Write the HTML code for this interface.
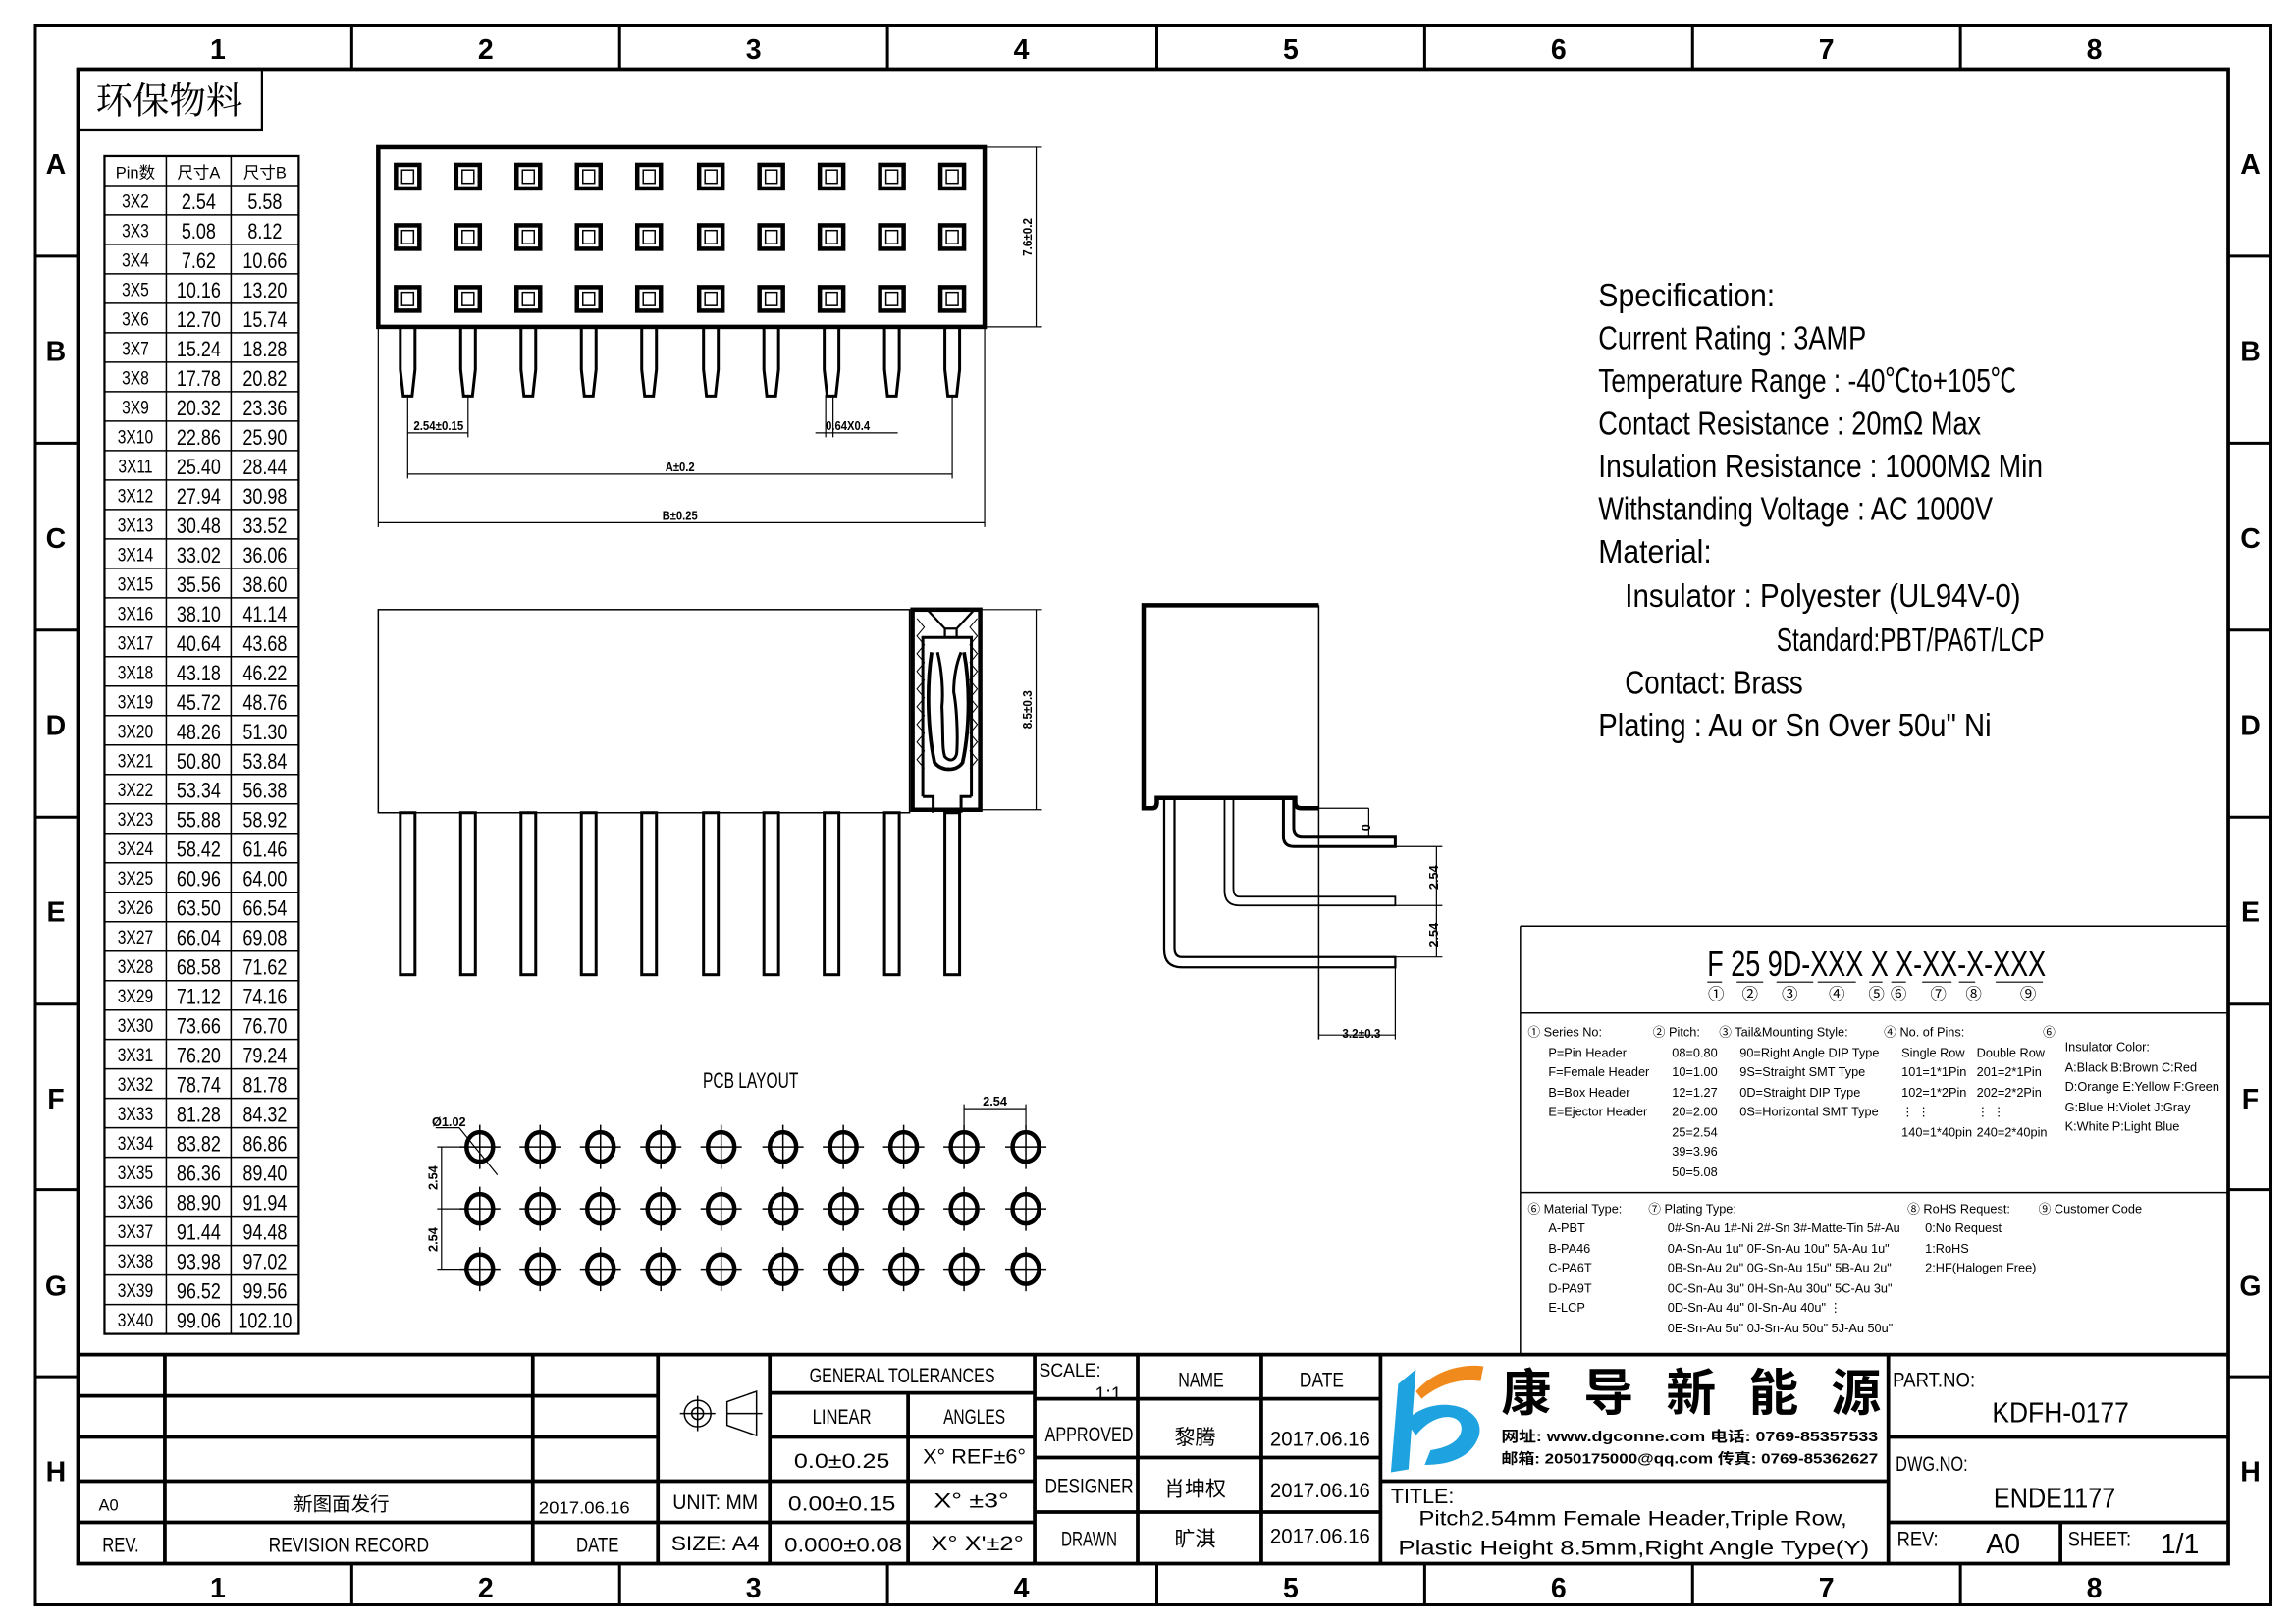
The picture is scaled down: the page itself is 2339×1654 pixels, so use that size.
<!DOCTYPE html>
<html><head><meta charset="utf-8"><style>
html,body{margin:0;padding:0;background:#fff}
svg{display:block}
text{font-family:"Liberation Sans","Noto Sans CJK SC",sans-serif;fill:#000}
.n{font-family:"Liberation Sans","Noto Sans CJK SC",sans-serif;font-weight:bold}
.s{font-size:13px}
.sp{font-size:22px}
.sm{font-size:8.5px;font-weight:bold}
</style></head><body>
<svg width="2339" height="1654" viewBox="0 0 1560 1103" preserveAspectRatio="none" xmlns="http://www.w3.org/2000/svg">
<defs>
<g id="pad"><rect x="-8" y="-8" width="16" height="16" fill="none" stroke="#000" stroke-width="3"/><rect x="-4" y="-4.5" width="8" height="9" fill="none" stroke="#000" stroke-width="1"/></g>
<path id="pin" d="M-5,0 L-5,28 L-3,46 L3,46 L5,28 L5,0" fill="none" stroke="#000" stroke-width="2"/>
<g id="hole"><ellipse rx="9" ry="10" fill="none" stroke="#000" stroke-width="3"/><path d="M-14,0H14M0,-15V15" stroke="#000" stroke-width="1"/></g>
<rect id="fp" x="-5" y="0" width="10" height="110" fill="none" stroke="#000" stroke-width="2"/>
</defs>
<rect width="1560" height="1103" fill="#fff"/>
<!-- frame -->
<rect x="24" y="17" width="1519" height="1073" fill="none" stroke="#000" stroke-width="2"/>
<rect x="53" y="47" width="1461" height="1015" fill="none" stroke="#000" stroke-width="2.5"/>
<g stroke="#000" stroke-width="2">
<path d="M239,17V47M421,17V47M603,17V47M786,17V47M968,17V47M1150,17V47M1332,17V47"/>
<path d="M239,1062V1090M421,1062V1090M603,1062V1090M786,1062V1090M968,1062V1090M1150,1062V1090M1332,1062V1090"/>
<path d="M24,174H53M24,301H53M24,428H53M24,555H53M24,682H53M24,808H53M24,935H53"/>
<path d="M1514,174H1543M1514,301H1543M1514,428H1543M1514,555H1543M1514,682H1543M1514,808H1543M1514,935H1543"/>
</g>
<g class="n" font-size="19" text-anchor="middle">
<text x="148" y="40">1</text><text x="330" y="40">2</text><text x="512" y="40">3</text><text x="694" y="40">4</text><text x="877" y="40">5</text><text x="1059" y="40">6</text><text x="1241" y="40">7</text><text x="1423" y="40">8</text>
<text x="148" y="1085">1</text><text x="330" y="1085">2</text><text x="512" y="1085">3</text><text x="694" y="1085">4</text><text x="877" y="1085">5</text><text x="1059" y="1085">6</text><text x="1241" y="1085">7</text><text x="1423" y="1085">8</text>
<text x="38" y="118">A</text><text x="38" y="245">B</text><text x="38" y="372">C</text><text x="38" y="499">D</text><text x="38" y="626">E</text><text x="38" y="753">F</text><text x="38" y="880">G</text><text x="38" y="1006">H</text>
<text x="1529" y="118">A</text><text x="1529" y="245">B</text><text x="1529" y="372">C</text><text x="1529" y="499">D</text><text x="1529" y="626">E</text><text x="1529" y="753">F</text><text x="1529" y="880">G</text><text x="1529" y="1006">H</text>
</g>
<rect x="53" y="47" width="125" height="41" fill="none" stroke="#000" stroke-width="1.5"/>
<text x="115" y="77" font-size="25" text-anchor="middle" style="font-family:'Noto Serif CJK SC','Noto Sans CJK SC',serif">环保物料</text>

<!-- table -->
<g stroke="#000" stroke-width="1" fill="none">
<rect x="71" y="106" width="132" height="800" stroke-width="1.5"/>
<path d="M113,106V906M157,106V906"/>
<path d="M71,126H203M71,146H203M71,166H203M71,186H203M71,206H203M71,226H203M71,246H203M71,266H203M71,286H203M71,306H203M71,326H203M71,346H203M71,366H203M71,386H203M71,406H203M71,426H203M71,446H203M71,466H203M71,486H203M71,506H203M71,526H203M71,546H203M71,566H203M71,586H203M71,606H203M71,626H203M71,646H203M71,666H203M71,686H203M71,706H203M71,726H203M71,746H203M71,766H203M71,786H203M71,806H203M71,826H203M71,846H203M71,866H203M71,886H203"/>
</g>
<g text-anchor="middle" font-size="11">
<text x="92" y="121">Pin数</text><text x="135" y="121">尺寸A</text><text x="180" y="121">尺寸B</text>
</g>
<g transform="scale(0.8,1)" text-anchor="middle">
<g font-size="13">
<text x="115" y="141">3X2</text><text x="115" y="161">3X3</text><text x="115" y="181">3X4</text><text x="115" y="201">3X5</text><text x="115" y="221">3X6</text><text x="115" y="241">3X7</text><text x="115" y="261">3X8</text><text x="115" y="281">3X9</text><text x="115" y="301">3X10</text><text x="115" y="321">3X11</text><text x="115" y="341">3X12</text><text x="115" y="361">3X13</text><text x="115" y="381">3X14</text><text x="115" y="401">3X15</text><text x="115" y="421">3X16</text><text x="115" y="441">3X17</text><text x="115" y="461">3X18</text><text x="115" y="481">3X19</text><text x="115" y="501">3X20</text><text x="115" y="521">3X21</text><text x="115" y="541">3X22</text><text x="115" y="561">3X23</text><text x="115" y="581">3X24</text><text x="115" y="601">3X25</text><text x="115" y="621">3X26</text><text x="115" y="641">3X27</text><text x="115" y="661">3X28</text><text x="115" y="681">3X29</text><text x="115" y="701">3X30</text><text x="115" y="721">3X31</text><text x="115" y="741">3X32</text><text x="115" y="761">3X33</text><text x="115" y="781">3X34</text><text x="115" y="801">3X35</text><text x="115" y="821">3X36</text><text x="115" y="841">3X37</text><text x="115" y="861">3X38</text><text x="115" y="881">3X39</text><text x="115" y="901">3X40</text>
</g>
<g font-size="15">
<text x="168.75" y="142">2.54</text><text x="168.75" y="162">5.08</text><text x="168.75" y="182">7.62</text><text x="168.75" y="202">10.16</text><text x="168.75" y="222">12.70</text><text x="168.75" y="242">15.24</text><text x="168.75" y="262">17.78</text><text x="168.75" y="282">20.32</text><text x="168.75" y="302">22.86</text><text x="168.75" y="322">25.40</text><text x="168.75" y="342">27.94</text><text x="168.75" y="362">30.48</text><text x="168.75" y="382">33.02</text><text x="168.75" y="402">35.56</text><text x="168.75" y="422">38.10</text><text x="168.75" y="442">40.64</text><text x="168.75" y="462">43.18</text><text x="168.75" y="482">45.72</text><text x="168.75" y="502">48.26</text><text x="168.75" y="522">50.80</text><text x="168.75" y="542">53.34</text><text x="168.75" y="562">55.88</text><text x="168.75" y="582">58.42</text><text x="168.75" y="602">60.96</text><text x="168.75" y="622">63.50</text><text x="168.75" y="642">66.04</text><text x="168.75" y="662">68.58</text><text x="168.75" y="682">71.12</text><text x="168.75" y="702">73.66</text><text x="168.75" y="722">76.20</text><text x="168.75" y="742">78.74</text><text x="168.75" y="762">81.28</text><text x="168.75" y="782">83.82</text><text x="168.75" y="802">86.36</text><text x="168.75" y="822">88.90</text><text x="168.75" y="842">91.44</text><text x="168.75" y="862">93.98</text><text x="168.75" y="882">96.52</text><text x="168.75" y="902">99.06</text>
<text x="225" y="142">5.58</text><text x="225" y="162">8.12</text><text x="225" y="182">10.66</text><text x="225" y="202">13.20</text><text x="225" y="222">15.74</text><text x="225" y="242">18.28</text><text x="225" y="262">20.82</text><text x="225" y="282">23.36</text><text x="225" y="302">25.90</text><text x="225" y="322">28.44</text><text x="225" y="342">30.98</text><text x="225" y="362">33.52</text><text x="225" y="382">36.06</text><text x="225" y="402">38.60</text><text x="225" y="422">41.14</text><text x="225" y="442">43.68</text><text x="225" y="462">46.22</text><text x="225" y="482">48.76</text><text x="225" y="502">51.30</text><text x="225" y="522">53.84</text><text x="225" y="542">56.38</text><text x="225" y="562">58.92</text><text x="225" y="582">61.46</text><text x="225" y="602">64.00</text><text x="225" y="622">66.54</text><text x="225" y="642">69.08</text><text x="225" y="662">71.62</text><text x="225" y="682">74.16</text><text x="225" y="702">76.70</text><text x="225" y="722">79.24</text><text x="225" y="742">81.78</text><text x="225" y="762">84.32</text><text x="225" y="782">86.86</text><text x="225" y="802">89.40</text><text x="225" y="822">91.94</text><text x="225" y="842">94.48</text><text x="225" y="862">97.02</text><text x="225" y="882">99.56</text><text x="225" y="902">102.10</text>
</g></g>

<!-- top view -->
<rect x="257" y="100" width="412" height="122" fill="none" stroke="#000" stroke-width="3"/>
<g>
<use href="#pad" x="277" y="120"/><use href="#pad" x="318" y="120"/><use href="#pad" x="359" y="120"/><use href="#pad" x="400" y="120"/><use href="#pad" x="441" y="120"/><use href="#pad" x="483" y="120"/><use href="#pad" x="524" y="120"/><use href="#pad" x="565" y="120"/><use href="#pad" x="606" y="120"/><use href="#pad" x="647" y="120"/>
<use href="#pad" x="277" y="161"/><use href="#pad" x="318" y="161"/><use href="#pad" x="359" y="161"/><use href="#pad" x="400" y="161"/><use href="#pad" x="441" y="161"/><use href="#pad" x="483" y="161"/><use href="#pad" x="524" y="161"/><use href="#pad" x="565" y="161"/><use href="#pad" x="606" y="161"/><use href="#pad" x="647" y="161"/>
<use href="#pad" x="277" y="203"/><use href="#pad" x="318" y="203"/><use href="#pad" x="359" y="203"/><use href="#pad" x="400" y="203"/><use href="#pad" x="441" y="203"/><use href="#pad" x="483" y="203"/><use href="#pad" x="524" y="203"/><use href="#pad" x="565" y="203"/><use href="#pad" x="606" y="203"/><use href="#pad" x="647" y="203"/>
<use href="#pin" x="277" y="223"/><use href="#pin" x="318" y="223"/><use href="#pin" x="359" y="223"/><use href="#pin" x="400" y="223"/><use href="#pin" x="441" y="223"/><use href="#pin" x="483" y="223"/><use href="#pin" x="524" y="223"/><use href="#pin" x="565" y="223"/><use href="#pin" x="606" y="223"/><use href="#pin" x="647" y="223"/>
</g>
<g stroke="#000" stroke-width="0.8" fill="none">
<path d="M669,100H708M669,222H708M704,100V222"/>
<path d="M277,268V325M318,268V297M277,294H318"/>
<path d="M561,268V297M566,268V297M554,294H610"/>
<path d="M647,268V325M277,322H647"/>
<path d="M257,222V358M669,222V358M257,355H669"/>
</g>
<g class="sm" text-anchor="middle">
<text x="298" y="292" textLength="34" lengthAdjust="spacingAndGlyphs">2.54±0.15</text><text x="576" y="292" textLength="30" lengthAdjust="spacingAndGlyphs">0.64X0.4</text><text x="462" y="320" textLength="20" lengthAdjust="spacingAndGlyphs">A±0.2</text><text x="462" y="353" textLength="24" lengthAdjust="spacingAndGlyphs">B±0.25</text>
<text transform="translate(701,161) rotate(-90)" textLength="26" lengthAdjust="spacingAndGlyphs">7.6±0.2</text>
</g>

<!-- front view -->
<rect x="257" y="414" width="361" height="138" fill="none" stroke="#000" stroke-width="1"/>
<g fill="none" stroke="#000">
<rect x="620" y="414" width="46" height="136" stroke-width="3"/>
<path d="M630,414L642,427H650L662,414M642,427V433M650,427V433" stroke-width="1.5"/>
<path d="M627,541V433H660V541" stroke-width="2"/>
<path d="M623,420l5,6l-5,6l5,6l-5,6l5,6l-5,6l5,6l-5,6l5,6l-5,6l5,6l-5,6l5,6l-5,6l5,6l-5,6l5,6 M664,420l-5,6l5,6l-5,6l5,6l-5,6l5,6l-5,6l5,6l-5,6l5,6l-5,6l5,6l-5,6l5,6l-5,6l5,6l-5,6" stroke-width="0.7"/>
<path d="M633,443C629,470 631,500 635,518C640,524 650,524 654,518C658,500 660,470 655,443" stroke-width="2.5"/>
<path d="M637,443C640,455 641,470 640,480C641,500 640,508 642,514C646,518 649,516 650,512C651,500 650,480 648,470C648,460 650,450 653,443" stroke-width="2"/>
<path d="M627,541H634V552M660,541H653V552" stroke-width="2"/>
<path d="M666,414H708M666,550H708M704,414V550" stroke-width="0.8"/>
</g>
<text class="sm" transform="translate(701,482) rotate(-90)" text-anchor="middle" textLength="26" lengthAdjust="spacingAndGlyphs">8.5±0.3</text>
<g>
<use href="#fp" x="277" y="552"/><use href="#fp" x="318" y="552"/><use href="#fp" x="359" y="552"/><use href="#fp" x="400" y="552"/><use href="#fp" x="441" y="552"/><use href="#fp" x="483" y="552"/><use href="#fp" x="524" y="552"/><use href="#fp" x="565" y="552"/><use href="#fp" x="606" y="552"/><use href="#fp" x="647" y="552"/>
</g>

<!-- side view -->
<g fill="none" stroke="#000">
<path d="M896,411H777V549H783Q786,549 786,545V542H880V545Q880,549 884,549H896" stroke-width="3"/>
<path d="M896,411V706" stroke-width="1"/>
<path d="M872,542V568Q872,575 879,575H948V568H885Q879,568 879,562V542" stroke-width="2"/>
<path d="M832,542V605Q832,615 842,615H948V609H842Q838,609 838,603V542" stroke-width="1.2"/>
<path d="M791,542V645Q791,657 803,657H948V650H803Q798,650 798,644V542" stroke-width="1.5"/>
<path d="M948,657V706M896,703H948M896,549H930M930,549V568M948,575H980M948,615H980M948,650H980M976,575V650" stroke-width="0.8"/>
</g>
<g class="sm" text-anchor="middle">
<text transform="translate(931,562) rotate(-90)">0</text>
<text transform="translate(977,596) rotate(-90)">2.54</text>
<text transform="translate(977,635) rotate(-90)">2.54</text>
<text x="925" y="705" textLength="26" lengthAdjust="spacingAndGlyphs">3.2±0.3</text>
</g>

<!-- PCB -->
<text x="510" y="739" font-size="15" text-anchor="middle" textLength="65" lengthAdjust="spacingAndGlyphs">PCB LAYOUT</text>
<g>
<use href="#hole" x="326" y="779"/><use href="#hole" x="367" y="779"/><use href="#hole" x="408" y="779"/><use href="#hole" x="449" y="779"/><use href="#hole" x="490" y="779"/><use href="#hole" x="532" y="779"/><use href="#hole" x="573" y="779"/><use href="#hole" x="614" y="779"/><use href="#hole" x="655" y="779"/><use href="#hole" x="697" y="779"/>
<use href="#hole" x="326" y="821"/><use href="#hole" x="367" y="821"/><use href="#hole" x="408" y="821"/><use href="#hole" x="449" y="821"/><use href="#hole" x="490" y="821"/><use href="#hole" x="532" y="821"/><use href="#hole" x="573" y="821"/><use href="#hole" x="614" y="821"/><use href="#hole" x="655" y="821"/><use href="#hole" x="697" y="821"/>
<use href="#hole" x="326" y="862"/><use href="#hole" x="367" y="862"/><use href="#hole" x="408" y="862"/><use href="#hole" x="449" y="862"/><use href="#hole" x="490" y="862"/><use href="#hole" x="532" y="862"/><use href="#hole" x="573" y="862"/><use href="#hole" x="614" y="862"/><use href="#hole" x="655" y="862"/><use href="#hole" x="697" y="862"/>
</g>
<g stroke="#000" stroke-width="0.8" fill="none">
<path d="M296,766H312L338,798M297,779H312M297,821H312M297,862H312M300,779V862M655,764V750M697,764V750M655,753H697"/>
</g>
<g class="sm" text-anchor="middle">
<text x="305" y="765">Ø1.02</text><text x="676" y="751">2.54</text>
<text transform="translate(297,800) rotate(-90)">2.54</text><text transform="translate(297,842) rotate(-90)">2.54</text>
</g>

<!-- specification -->
<g class="sp" lengthAdjust="spacingAndGlyphs">
<text x="1086" y="208" textLength="120" lengthAdjust="spacingAndGlyphs">Specification:</text>
<text x="1086" y="237" textLength="182" lengthAdjust="spacingAndGlyphs">Current Rating : 3AMP</text>
<text x="1086" y="266" textLength="284" lengthAdjust="spacingAndGlyphs">Temperature Range : -40℃to+105℃</text>
<text x="1086" y="295" textLength="260" lengthAdjust="spacingAndGlyphs">Contact Resistance : 20mΩ Max</text>
<text x="1086" y="324" textLength="302" lengthAdjust="spacingAndGlyphs">Insulation Resistance : 1000MΩ Min</text>
<text x="1086" y="353" textLength="268" lengthAdjust="spacingAndGlyphs">Withstanding Voltage : AC 1000V</text>
<text x="1086" y="382" textLength="77" lengthAdjust="spacingAndGlyphs">Material:</text>
<text x="1104" y="412" textLength="269" lengthAdjust="spacingAndGlyphs">Insulator : Polyester (UL94V-0)</text>
<text x="1207" y="442" textLength="182" lengthAdjust="spacingAndGlyphs">Standard:PBT/PA6T/LCP</text>
<text x="1104" y="471" textLength="121" lengthAdjust="spacingAndGlyphs">Contact: Brass</text>
<text x="1086" y="500" textLength="267" lengthAdjust="spacingAndGlyphs">Plating : Au or Sn Over 50u" Ni</text>
</g>

<!-- part number box -->
<g fill="none" stroke="#000">
<path d="M1033,629H1514M1033,629V920M1033,688H1514M1033,810H1514" stroke-width="1"/>
</g>
<text x="1160" y="663" font-size="24" textLength="230" lengthAdjust="spacingAndGlyphs">F 25 9D-XXX X X-XX-X-XXX</text>
<g stroke="#000" stroke-width="0.8"><path d="M1160,667h10M1180,667h18M1207,667h25M1235,667h26M1270,667h9M1285,667h10M1306,667h20M1331,667h11M1356,667h32"/></g>
<g font-size="11" text-anchor="middle"><text x="1166" y="679">①</text><text x="1189" y="679">②</text><text x="1216" y="679">③</text><text x="1248" y="679">④</text><text x="1275" y="679">⑤</text><text x="1290" y="679">⑥</text><text x="1317" y="679">⑦</text><text x="1341" y="679">⑧</text><text x="1378" y="679">⑨</text></g>
<g font-size="8.5">
<text x="1038" y="704">① Series No:</text><text x="1052" y="718">P=Pin Header</text><text x="1052" y="731">F=Female Header</text><text x="1052" y="745">B=Box Header</text><text x="1052" y="758">E=Ejector Header</text>
<text x="1123" y="704">② Pitch:</text><text x="1136" y="718">08=0.80</text><text x="1136" y="731">10=1.00</text><text x="1136" y="745">12=1.27</text><text x="1136" y="758">20=2.00</text><text x="1136" y="772">25=2.54</text><text x="1136" y="785">39=3.96</text><text x="1136" y="799">50=5.08</text>
<text x="1168" y="704">③ Tail&amp;Mounting Style:</text><text x="1182" y="718">90=Right Angle DIP Type</text><text x="1182" y="731">9S=Straight SMT Type</text><text x="1182" y="745">0D=Straight DIP Type</text><text x="1182" y="758">0S=Horizontal SMT Type</text>
<text x="1280" y="704">④ No. of Pins:</text><text x="1292" y="718">Single Row</text><text x="1343" y="718">Double Row</text><text x="1292" y="731">101=1*1Pin</text><text x="1343" y="731">201=2*1Pin</text><text x="1292" y="745">102=1*2Pin</text><text x="1343" y="745">202=2*2Pin</text><text x="1292" y="758">⋮  ⋮</text><text x="1343" y="758">⋮  ⋮</text><text x="1292" y="772">140=1*40pin</text><text x="1343" y="772">240=2*40pin</text>
<text x="1388" y="704">⑥</text><text x="1403" y="714">Insulator Color:</text><text x="1403" y="728">A:Black  B:Brown  C:Red</text><text x="1403" y="741">D:Orange E:Yellow F:Green</text><text x="1403" y="755">G:Blue   H:Violet J:Gray</text><text x="1403" y="768">K:White  P:Light Blue</text>
<text x="1038" y="824">⑥ Material Type:</text><text x="1052" y="837">A-PBT</text><text x="1052" y="851">B-PA46</text><text x="1052" y="864">C-PA6T</text><text x="1052" y="878">D-PA9T</text><text x="1052" y="891">E-LCP</text>
<text x="1120" y="824">⑦ Plating Type:</text><text x="1133" y="837" textLength="158" lengthAdjust="spacingAndGlyphs">0#-Sn-Au 1#-Ni 2#-Sn 3#-Matte-Tin 5#-Au</text><text x="1133" y="851">0A-Sn-Au 1u" 0F-Sn-Au 10u"  5A-Au 1u"</text><text x="1133" y="864">0B-Sn-Au 2u" 0G-Sn-Au 15u"  5B-Au 2u"</text><text x="1133" y="878">0C-Sn-Au 3u" 0H-Sn-Au 30u"  5C-Au 3u"</text><text x="1133" y="891">0D-Sn-Au 4u" 0I-Sn-Au 40u"        ⋮</text><text x="1133" y="905">0E-Sn-Au 5u" 0J-Sn-Au 50u"  5J-Au 50u"</text>
<text x="1296" y="824">⑧ RoHS Request:</text><text x="1308" y="837">0:No Request</text><text x="1308" y="851">1:RoHS</text><text x="1308" y="864">2:HF(Halogen Free)</text>
<text x="1385" y="824">⑨ Customer Code</text>
</g>

<!-- title block -->
<g fill="none" stroke="#000" stroke-width="2.5">
<path d="M53,920H1514"/>
<path d="M53,948H447M53,976H447M53,1006H523M53,1034H703"/>
<path d="M523,946H703M523,976H703M523,1006H703"/>
<path d="M112,920V1062M362,920V1062M447,920V1062M523,920V1062M617,946V1062M703,920V1062"/>
<path d="M703,950H938M703,990H938M703,1027H938M773,920V1062M857,920V1062M938,920V1062"/>
<path d="M938,1006H1283M1283,920V1062M1283,976H1514M1283,1034H1514M1400,1034V1062"/>
</g>
<g fill="none" stroke="#000" stroke-width="1"><circle cx="474" cy="960" r="9"/><circle cx="474" cy="960" r="4"/><path d="M462,960H486M474,948V972M494,960H518M494,952L514,945V975L494,968Z"/></g>
<g font-size="14" text-anchor="middle">
<text x="613" y="939" textLength="126" lengthAdjust="spacingAndGlyphs">GENERAL TOLERANCES</text>
<text x="572" y="967" textLength="40" lengthAdjust="spacingAndGlyphs">LINEAR</text><text x="662" y="967" textLength="42" lengthAdjust="spacingAndGlyphs">ANGLES</text>
<text x="572" y="997" textLength="65" lengthAdjust="spacingAndGlyphs">0.0±0.25</text><text x="662" y="994" textLength="70" lengthAdjust="spacingAndGlyphs">X° REF±6°</text>
<text x="572" y="1026" textLength="73" lengthAdjust="spacingAndGlyphs">0.00±0.15</text><text x="660" y="1024" textLength="51" lengthAdjust="spacingAndGlyphs">X°  ±3°</text>
<text x="573" y="1054" textLength="80" lengthAdjust="spacingAndGlyphs">0.000±0.08</text><text x="664" y="1053" textLength="63" lengthAdjust="spacingAndGlyphs">X° X'±2°</text>
<text x="486" y="1025" textLength="58" lengthAdjust="spacingAndGlyphs">UNIT: MM</text><text x="486" y="1053" textLength="60" lengthAdjust="spacingAndGlyphs">SIZE: A4</text>
<text x="82" y="1054" textLength="25" lengthAdjust="spacingAndGlyphs">REV.</text><text x="237" y="1054" textLength="109" lengthAdjust="spacingAndGlyphs">REVISION RECORD</text><text x="406" y="1054" textLength="29" lengthAdjust="spacingAndGlyphs">DATE</text>
<text x="232" y="1026" font-size="13">新图面发行</text><text x="397" y="1028" font-size="12" textLength="62" lengthAdjust="spacingAndGlyphs">2017.06.16</text>
<text x="740" y="979" textLength="60" lengthAdjust="spacingAndGlyphs">APPROVED</text><text x="740" y="1014" textLength="60" lengthAdjust="spacingAndGlyphs">DESIGNER</text><text x="740" y="1050" textLength="38" lengthAdjust="spacingAndGlyphs">DRAWN</text>
<text x="816" y="942" textLength="31" lengthAdjust="spacingAndGlyphs">NAME</text><text x="898" y="942" textLength="30" lengthAdjust="spacingAndGlyphs">DATE</text>
<text x="812" y="981">黎腾</text><text x="812" y="1016">肖坤权</text><text x="812" y="1050">旷淇</text>
<text x="897" y="982" textLength="68" lengthAdjust="spacingAndGlyphs">2017.06.16</text><text x="897" y="1017" textLength="68" lengthAdjust="spacingAndGlyphs">2017.06.16</text><text x="897" y="1048" textLength="68" lengthAdjust="spacingAndGlyphs">2017.06.16</text>
</g>
<text x="67" y="1026" font-size="11">A0</text>
<text x="706" y="935" font-size="13" textLength="42" lengthAdjust="spacingAndGlyphs">SCALE:</text>
<text x="744" y="951" font-size="13">1:1</text>
<!-- logo -->
<path d="M950,940L962,930L957,998L945,1000Z" fill="#1fa3e0"/>
<path d="M955,965C975,945 1010,955 1005,975C1000,990 985,995 968,995L972,985C985,983 993,978 993,970C993,960 975,958 962,975Z" fill="#1fa3e0"/>
<path d="M962,945C975,930 995,926 1008,928L1006,938C992,936 978,940 966,950Z" fill="#f08a1d"/>
<g font-size="34" font-weight="bold" style="font-family:'Noto Sans CJK SC',sans-serif"><text x="1020" y="958">康</text><text x="1076" y="958">导</text><text x="1132" y="958">新</text><text x="1188" y="958">能</text><text x="1244" y="958">源</text></g>
<g font-size="10" class="n"><text x="1020" y="979" textLength="256" lengthAdjust="spacingAndGlyphs">网址: www.dgconne.com  电话: 0769-85357533</text><text x="1020" y="994" textLength="256" lengthAdjust="spacingAndGlyphs">邮箱: 2050175000@qq.com 传真: 0769-85362627</text></g>
<g font-size="14"><text x="945" y="1021" textLength="43" lengthAdjust="spacingAndGlyphs">TITLE:</text><text x="964" y="1036" textLength="291" lengthAdjust="spacingAndGlyphs">Pitch2.54mm Female Header,Triple Row,</text><text x="950" y="1056" textLength="320" lengthAdjust="spacingAndGlyphs">Plastic Height 8.5mm,Right Angle Type(Y)</text>
<text x="1286" y="942" textLength="56" lengthAdjust="spacingAndGlyphs">PART.NO:</text><text x="1288" y="999" textLength="49" lengthAdjust="spacingAndGlyphs">DWG.NO:</text><text x="1289" y="1050" textLength="28" lengthAdjust="spacingAndGlyphs">REV:</text><text x="1405" y="1050" textLength="43" lengthAdjust="spacingAndGlyphs">SHEET:</text></g>
<g font-size="19" text-anchor="middle"><text x="1400" y="966" textLength="93" lengthAdjust="spacingAndGlyphs">KDFH-0177</text><text x="1396" y="1024" textLength="83" lengthAdjust="spacingAndGlyphs">ENDE1177</text><text x="1361" y="1055">A0</text><text x="1481" y="1055">1/1</text></g>
</svg>
</body></html>
